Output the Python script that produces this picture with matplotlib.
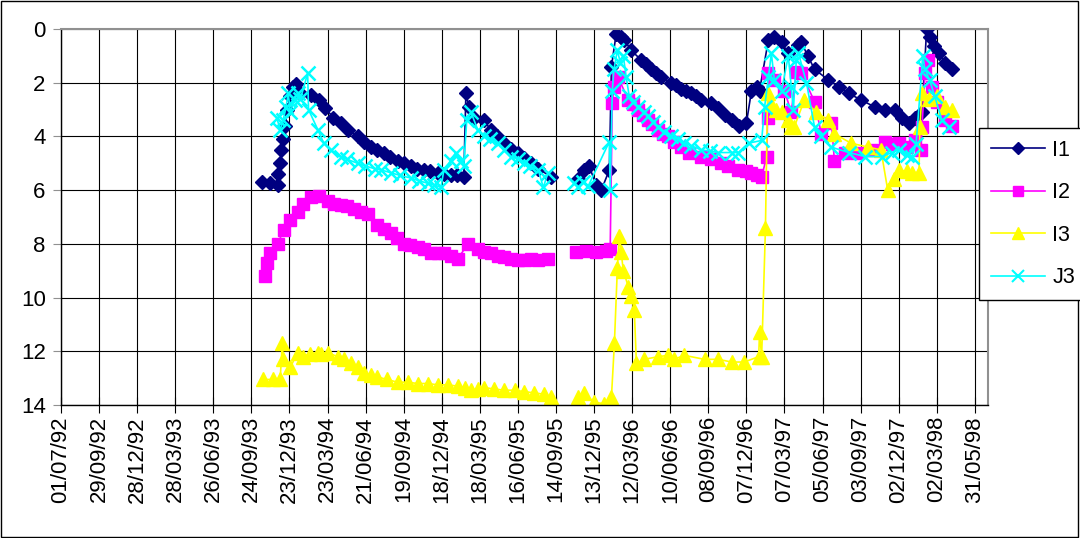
import numpy as np
import pandas as pd
import matplotlib
matplotlib.use("Agg")
import matplotlib.pyplot as plt
import matplotlib.dates as mdates
from matplotlib.lines import Line2D
from matplotlib.patches import Rectangle

plt.rcParams['font.family'] = ['Liberation Sans', 'DejaVu Sans']

# readings, dd/mm/yy ; None = blank row between the two campaigns
i1_dates = ["20/10/93", "08/11/93", "25/11/93", "27/11/93", "01/12/93", "04/12/93", "08/12/93", "13/12/93", "18/12/93", "25/12/93",
            "01/01/94", "08/01/94", "18/01/94", "11/02/94", "02/03/94", "18/03/94", "06/04/94", "23/04/94", "10/05/94", "02/06/94",
            "18/06/94", "03/07/94", "18/07/94", "03/08/94", "18/08/94", "05/09/94", "20/09/94", "06/10/94", "20/10/94", "05/11/94",
            "20/11/94", "09/12/94", "24/12/94", "08/01/95", "24/01/95", "08/02/95", "13/02/95", "20/02/95", "04/03/95", "27/03/95",
            "13/04/95", "28/04/95", "14/05/95", "30/05/95", "16/06/95", "01/07/95", "17/07/95", "03/08/95", "02/09/95",
            "01/10/95",
            "05/11/95", "19/11/95", "01/12/95", "18/12/95", "30/12/95", "18/01/96", "23/01/96", "03/02/96", "15/02/96", "22/02/96",
            "10/03/96", "02/04/96", "14/04/96", "26/04/96", "08/05/96", "20/05/96", "12/06/96", "24/06/96", "06/07/96", "18/07/96",
            "30/07/96", "10/08/96", "22/08/96", "15/09/96", "02/10/96", "17/10/96", "02/11/96", "20/11/96", "07/12/96", "19/12/96",
            "31/12/96", "07/01/97", "28/01/97", "11/02/97", "28/02/97", "16/03/97", "09/04/97", "16/04/97", "01/05/97", "17/05/97",
            "19/06/97", "13/07/97", "06/08/97", "05/09/97", "06/10/97", "30/10/97", "23/11/97", "09/12/97", "26/12/97", "09/01/98",
            "26/01/98", "06/02/98", "13/02/98", "23/02/98", "07/03/98", "21/03/98", "07/04/98"]
i1_vals = [5.7, 5.75, 5.8, 5.4, 5.0, 4.5, 4.1, 3.6, 3.0, 2.5,
           2.15, 2.05, 2.4, 2.45, 2.65, 2.95, 3.3, 3.5, 3.75, 4.0,
           4.2, 4.4, 4.5, 4.6, 4.75, 4.9, 5.0, 5.1, 5.2, 5.25,
           5.3, 5.35, 5.4, 5.45, 5.45, 5.5, 2.4, 2.9, 3.3, 3.4,
           3.75, 4.0, 4.25, 4.45, 4.6, 4.8, 5.0, 5.2, 5.5,
           None,
           5.6, 5.25, 5.1, 5.8, 6.0, 5.25, 1.4, 0.2, 0.3, 0.4,
           0.8, 1.15, 1.3, 1.5, 1.65, 1.8, 2.0, 2.1, 2.25, 2.3,
           2.4, 2.5, 2.65, 2.75, 2.95, 3.2, 3.4, 3.6, 3.5, 2.3,
           2.15, 2.3, 0.4, 0.3, 0.5, 0.9, 0.6, 0.5, 1.0, 1.5,
           1.9, 2.15, 2.4, 2.65, 2.9, 3.0, 3.0, 3.3, 3.5, 3.3,
           3.1, 0.0, 0.3, 0.65, 0.9, 1.25, 1.5]

i2_dates = ["27/10/93", "01/11/93", "08/11/93", "25/11/93", "09/12/93", "25/12/93", "11/01/94", "25/01/94", "11/02/94", "02/03/94",
            "23/03/94", "08/04/94", "23/04/94", "09/05/94", "24/05/94", "10/06/94", "26/06/94", "19/07/94", "04/08/94", "19/08/94",
            "04/09/94", "19/09/94", "05/10/94", "22/10/94", "06/11/94", "22/11/94", "08/12/94", "23/12/94", "09/01/95", "25/01/95",
            "18/02/95", "13/03/95", "27/03/95", "13/04/95", "29/04/95", "14/05/95", "30/05/95", "16/06/95", "02/07/95", "17/07/95",
            "03/08/95", "26/08/95",
            "01/10/95",
            "01/11/95", "25/11/95", "18/12/95", "10/01/96", "20/01/96", "25/01/96", "29/01/96", "08/02/96", "03/03/96", "15/03/96",
            "26/03/96", "06/04/96", "19/04/96", "28/04/96", "13/05/96", "24/05/96", "05/06/96", "20/06/96", "06/07/96", "25/07/96",
            "22/08/96", "15/09/96", "09/10/96", "25/10/96", "18/11/96", "05/12/96", "19/12/96", "02/01/97", "12/01/97", "24/01/97",
            "26/01/97", "28/01/97", "11/02/97", "07/03/97", "23/03/97", "04/04/97", "16/04/97", "17/05/97", "02/06/97", "26/06/97",
            "03/07/97", "27/07/97", "25/08/97", "30/09/97", "30/10/97", "16/11/97", "02/12/97", "21/12/97", "09/01/98", "23/01/98",
            "26/01/98", "02/02/98", "09/02/98", "18/02/98", "02/03/98", "21/03/98", "07/04/98"]
i2_vals = [9.2, 8.7, 8.35, 8.0, 7.5, 7.1, 6.8, 6.5, 6.25, 6.2,
           6.4, 6.5, 6.55, 6.6, 6.7, 6.8, 6.9, 7.3, 7.45, 7.6,
           7.8, 8.0, 8.05, 8.1, 8.2, 8.35, 8.35, 8.35, 8.45, 8.55,
           8.0, 8.2, 8.3, 8.35, 8.45, 8.5, 8.55, 8.6, 8.6, 8.55,
           8.6, 8.55,
           None,
           8.3, 8.25, 8.3, 8.25, 8.2, 2.75, 2.15, 1.8, 2.65, 2.8,
           3.0, 3.2, 3.4, 3.55, 3.75, 3.9, 4.0, 4.2, 4.4, 4.6,
           4.75, 4.85, 5.0, 5.1, 5.25, 5.3, 5.35, 5.45, 5.5, 4.75,
           3.3, 1.65, 1.9, 2.3, 3.1, 1.6, 1.65, 2.7, 3.9, 3.5,
           4.9, 4.6, 4.6, 4.5, 4.2, 4.3, 4.25, 4.4, 4.15, 4.5,
           3.65, 1.65, 1.15, 2.15, 2.7, 3.4, 3.6]

i3_dates = ["22/10/93", "15/11/93", "01/12/93", "06/12/93", "08/12/93", "25/12/93", "11/01/94", "25/01/94", "09/02/94", "28/02/94",
            "08/03/94", "23/03/94", "16/04/94", "01/05/94", "17/05/94", "02/06/94", "17/06/94", "03/07/94", "19/07/94", "10/08/94",
            "05/09/94", "28/09/94", "22/10/94", "15/11/94", "09/12/94", "02/01/95", "25/01/95", "10/02/95", "25/02/95", "13/03/95",
            "27/03/95", "20/04/95", "14/05/95", "08/06/95", "30/06/95", "25/07/95", "17/08/95", "02/09/95",
            "01/10/95",
            "05/11/95", "19/11/95", "13/12/95", "06/01/96", "23/01/96", "30/01/96", "06/02/96", "11/02/96", "15/02/96", "20/02/96",
            "03/03/96", "10/03/96", "17/03/96", "22/03/96", "09/04/96", "13/05/96", "05/06/96", "19/06/96", "13/07/96", "30/08/96",
            "02/10/96", "02/11/96", "02/12/96", "05/01/97", "07/01/97", "12/01/97", "21/01/97", "26/01/97", "02/02/97", "14/02/97",
            "28/02/97", "16/03/97", "23/03/97", "30/03/97", "23/04/97", "21/05/97", "19/06/97", "03/07/97", "11/08/97", "21/09/97",
            "21/10/97", "06/11/97", "21/11/97", "02/12/97", "21/12/97", "02/01/98", "19/01/98", "21/01/98", "26/01/98", "11/02/98",
            "02/03/98", "21/03/98", "07/04/98"]
i3_vals = [13.05, 13.05, 13.05, 11.7, 12.3, 12.6, 12.05, 12.2, 12.1, 12.05,
           12.1, 12.05, 12.2, 12.3, 12.45, 12.6, 12.8, 12.9, 12.95, 13.05,
           13.15, 13.15, 13.2, 13.2, 13.25, 13.25, 13.3, 13.35, 13.45, 13.4,
           13.35, 13.4, 13.45, 13.45, 13.5, 13.55, 13.6, 13.7,
           None,
           13.7, 13.55, 13.9, 13.95, 13.7, 11.7, 8.9, 7.7, 8.3, 9.0,
           9.6, 9.95, 10.45, 12.45, 12.3, 12.2, 12.15, 12.3, 12.15, 12.3,
           12.3, 12.4, 12.4, 12.2, 11.3, 12.2, 7.4, 2.4, 2.8, 3.0,
           3.1, 3.4, 3.65, 3.65, 2.65, 3.1, 3.4, 3.9, 4.25, 4.4,
           4.5, 6.0, 5.6, 5.25, 5.3, 5.35, 5.35, 3.65, 2.4, 2.6,
           2.5, 2.9, 3.0]

j3_dates = ["23/11/93", "01/12/93", "08/12/93", "15/12/93", "20/12/93", "25/12/93", "04/01/94", "11/01/94", "18/01/94", "04/02/94",
            "06/02/94", "28/02/94", "14/03/94", "30/03/94", "23/04/94", "08/05/94", "02/06/94", "20/06/94", "12/07/94", "28/07/94",
            "19/08/94", "10/09/94", "06/10/94", "25/10/94", "16/11/94", "30/11/94", "16/12/94", "23/12/94", "08/01/95", "20/01/95",
            "01/02/95", "08/02/95", "15/02/95", "25/02/95", "13/03/95", "27/03/95", "12/04/95", "29/04/95", "15/05/95", "30/05/95",
            "15/06/95", "30/06/95", "15/07/95", "03/08/95", "15/08/95", "26/08/95",
            "01/10/95",
            "27/10/95", "05/11/95", "17/11/95", "29/11/95", "18/01/96", "20/01/96", "25/01/96", "29/01/96", "06/02/96", "13/02/96",
            "20/02/96", "27/02/96", "05/03/96", "15/03/96", "26/03/96", "08/04/96", "19/04/96", "01/05/96", "13/05/96", "27/05/96",
            "12/06/96", "28/06/96", "13/07/96", "30/07/96", "22/08/96", "12/09/96", "02/10/96", "02/11/96", "18/11/96", "12/12/96",
            "12/01/97", "19/01/97", "28/01/97", "04/02/97", "11/02/97", "28/02/97", "16/03/97", "23/03/97", "28/03/97", "04/04/97",
            "09/04/97", "28/04/97", "17/05/97", "02/06/97", "26/06/97", "06/08/97", "14/09/97", "23/10/97", "16/11/97", "02/12/97",
            "21/12/97", "02/01/98", "12/01/98", "28/01/98", "02/02/98", "13/02/98", "25/02/98", "14/03/98", "30/03/98"]
j3_vals = [3.3, 3.75, 3.4, 2.9, 2.4, 3.1, 2.65, 2.4, 2.6, 1.65,
           3.0, 3.75, 4.25, 4.5, 4.75, 4.85, 5.0, 5.1, 5.2, 5.25,
           5.35, 5.45, 5.55, 5.65, 5.75, 5.8, 5.9, 5.25, 4.9, 4.6,
           4.9, 5.1, 3.4, 3.1, 3.75, 4.0, 4.1, 4.25, 4.5, 4.75,
           4.85, 5.0, 5.1, 5.25, 5.9, 5.35,
           None,
           5.75, 5.9, 5.7, 5.85, 4.2, 6.0, 2.3, 1.5, 0.8, 1.25,
           1.0, 1.8, 2.5, 2.7, 2.9, 3.1, 3.25, 3.45, 3.65, 3.85,
           4.0, 4.1, 4.25, 4.35, 4.5, 4.55, 4.6, 4.6, 4.6, 4.25,
           4.15, 2.9, 1.8, 0.9, 1.9, 2.3, 1.0, 2.15, 3.0, 1.15,
           0.9, 2.0, 3.65, 4.0, 4.4, 4.6, 4.75, 4.75, 4.6, 4.5,
           4.7, 4.75, 4.3, 1.0, 1.5, 1.9, 2.5, 3.4, 3.65]

series = [("I1", i1_dates, i1_vals, "#000080", "D", 7.5),
          ("I2", i2_dates, i2_vals, "#FF00FF", "s", 8.5),
          ("I3", i3_dates, i3_vals, "#FFFF00", "^", 9.5),
          ("J3", j3_dates, j3_vals, "#00FFFF", "x", 10)]

start = pd.Timestamp("1992-07-01")
end = pd.Timestamp("1998-07-01")
tick_dates = [start + pd.Timedelta(days=90 * k) for k in range(25)]

fig = plt.figure(figsize=(10.8, 5.38), dpi=100)
ax = fig.add_axes([61 / 1080, 133 / 538, (988 - 61) / 1080, (405 - 29) / 538])

handles = []
for name, d, v, col, mk, ms in series:
    x = pd.to_datetime(d, format="%d/%m/%y")
    y = np.array([np.nan if a is None else a for a in v], dtype=float)
    ax.plot(x, y, color=col, lw=1.2, marker=mk, ms=ms, mec=col, mfc=col,
            mew=1.8 if mk == "x" else 1)
    handles.append(Line2D([], [], color=col, lw=1.2, marker=mk, ms=ms * 0.85, mec=col, mfc=col,
                          mew=1.5 if mk == "x" else 1, label=name))

ax.set_xlim(start, end)
ax.set_ylim(14, 0)
ax.set_yticks(range(0, 15, 2))
ax.set_xticks(tick_dates)
ax.xaxis.set_major_formatter(mdates.DateFormatter("%d/%m/%y"))
ax.tick_params(axis="x", rotation=90, direction="inout", length=12, labelsize=16, pad=2)
ax.tick_params(axis="y", direction="out", length=6, color="#909090", labelsize=16, pad=5)
ax.grid(True, color="black", lw=0.8)
ax.set_axisbelow(True)
for s in ["top", "right"]:
    ax.spines[s].set_color("#909090")
    ax.spines[s].set_linewidth(1.5)
for s in ["left", "bottom"]:
    ax.spines[s].set_color("black")
    ax.spines[s].set_linewidth(1)

leg = fig.legend(handles=handles, loc="upper left", bbox_to_anchor=(979 / 1080, 1 - 128 / 538),
                 fontsize=15.5, frameon=True, fancybox=False, framealpha=1, edgecolor="black",
                 borderpad=0.55, labelspacing=1.0, handlelength=2.5, handletextpad=0.35,
                 borderaxespad=0)
leg.get_frame().set_linewidth(1)

fig.patches.append(Rectangle((0.001, 0.002), 0.997, 0.996, transform=fig.transFigure,
                             fill=False, edgecolor="black", lw=1))

fig.savefig("out.png", dpi=100)
